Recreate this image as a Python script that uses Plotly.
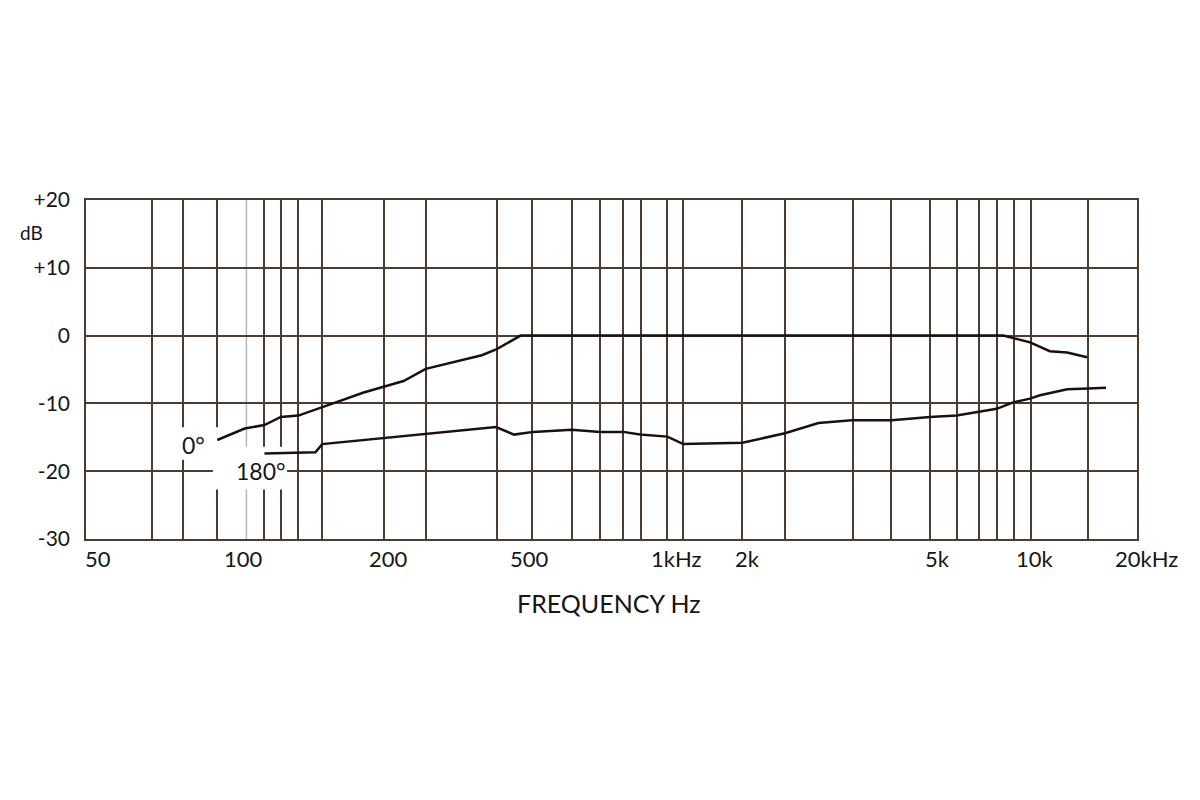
import math
import plotly.graph_objects as go

# ---- data ----
# 0 degree response
F0 = [84.5, 99, 111, 122, 135, 155, 165, 197, 221, 248, 282, 390, 425, 488,
      7950, 8420, 9280, 10400, 11500, 12900]
DB0 = [-15.4, -13.7, -13.2, -12.0, -11.8, -10.6, -10.0, -8.4, -7.5, -6.7, -4.9,
       -2.9, -2.0, 0.0, 0.0, -0.4, -1.0, -2.3, -2.5, -3.2]

# 180 degree response
F180 = [111, 149, 155, 221, 284, 423, 470, 525, 656, 772, 884, 973, 1140, 1250,
        1760, 2250, 2730, 3310, 4170, 5200, 6070, 6880, 7650, 8420, 9280, 9830,
        11500, 13000, 14400]
DB180 = [-17.4, -17.2, -16.0, -15.1, -14.5, -13.5, -14.6, -14.2, -13.9, -14.2,
         -14.2, -14.6, -14.9, -16.0, -15.8, -14.4, -12.9, -12.5, -12.5, -12.0,
         -11.8, -11.3, -10.8, -9.85, -9.3, -8.8, -7.9, -7.8, -7.7]

# grid lines of the chart paper (Hz)
GRID_HZ = [57.8, 69.2, 84.5, 111, 122, 135, 155, 221, 282, 425, 521, 658, 772,
           884, 977, 1140, 1250, 1760, 2250, 3330, 4150, 5190, 6070, 6900, 7680,
           8460, 9350, 13000]
GREY_LINE_HZ = 100

# axis labels
X_LABEL_HZ = [50, 100, 200, 500, 1000, 2000, 5000, 10000, 20000]
X_LABEL_TEXT = ["50", "100", "200", "500", "1kHz", "2k", "5k", "10k", "20kHz"]
Y_TICKS = [-30, -20, -10, 0, 10, 20]
Y_TICK_TEXT = ["-30", "-20", "-10", "0", "+10", "+20"]

# curve labels (frequency, dB)
CURVE_LABELS = [("0°", 73.7, -16.1), ("180°", 108.5, -19.9)]

# ---- styling ----
FONT = "Lato"
GRID_COLOR = "#4f3b2d"
CURVE_COLOR = "#1a1010"
TEXT_COLOR = "#161616"
X_LABEL_NUDGE = [-28, -3, 22, 5, 31, -17, 14, -8, -16]
X_RANGE = [1.5973, 4.236]

fig = go.Figure()
fig.add_trace(go.Scatter(x=F0, y=DB0, mode="lines",
                         line=dict(color=CURVE_COLOR, width=2.5), showlegend=False))
fig.add_trace(go.Scatter(x=F180, y=DB180, mode="lines",
                         line=dict(color=CURVE_COLOR, width=2.5), showlegend=False))

fig.update_layout(
    width=1200, height=800,
    paper_bgcolor="white", plot_bgcolor="white",
    margin=dict(l=86, r=63, t=200, b=261),
    font=dict(family=FONT, color=TEXT_COLOR),
    showlegend=False,
)

fig.update_xaxes(
    type="log", range=X_RANGE,
    tickmode="array", tickvals=GRID_HZ, showticklabels=False, ticks="",
    showgrid=True, gridcolor=GRID_COLOR, gridwidth=1.5,
    showline=True, linecolor=GRID_COLOR, linewidth=1.6, mirror=True,
    zeroline=False,
)
fig.update_yaxes(
    range=[-30, 20], tickmode="array", tickvals=Y_TICKS, ticktext=Y_TICK_TEXT,
    ticks="", ticklabelstandoff=10,
    tickfont=dict(family=FONT, size=21, color=TEXT_COLOR),
    showgrid=True, gridcolor=GRID_COLOR, gridwidth=1.5,
    showline=True, linecolor=GRID_COLOR, linewidth=1.6, mirror=True,
    zeroline=False,
)

shapes = [
    dict(type="line", xref="x", yref="paper", x0=GREY_LINE_HZ, x1=GREY_LINE_HZ,
         y0=0, y1=1, line=dict(color="#b8b8b8", width=1.5), layer="between"),
    # white masks behind curve labels
    dict(type="rect", xref="x", yref="y", x0=67.3, x1=87.2, y0=-18.3, y1=-13.5,
         fillcolor="white", line=dict(width=0), layer="between"),
    dict(type="rect", xref="x", yref="y", x0=82.4, x1=126.5, y0=-22.7, y1=-16.4,
         fillcolor="white", line=dict(width=0), layer="between"),
]
fig.update_layout(shapes=shapes)


def x_paper(f):
    return (math.log10(f) - X_RANGE[0]) / (X_RANGE[1] - X_RANGE[0])


annotations = []
for f, t, dx in zip(X_LABEL_HZ, X_LABEL_TEXT, X_LABEL_NUDGE):
    annotations.append(dict(x=x_paper(f), xref="paper", y=0, yref="paper", text=t,
                            showarrow=False, xanchor="center", yanchor="middle",
                            xshift=dx, yshift=-19,
                            font=dict(family=FONT, size=22, color=TEXT_COLOR)))
for t, f, db in CURVE_LABELS:
    annotations.append(dict(x=math.log10(f), xref="x", y=db, yref="y", text=t,
                            showarrow=False, xanchor="center", yanchor="middle",
                            font=dict(family=FONT, size=23, color=TEXT_COLOR)))
annotations += [
    dict(x=0.4976, xref="paper", y=0, yref="paper", text="FREQUENCY Hz",
         showarrow=False, xanchor="center", yanchor="middle", yshift=-64,
         font=dict(family=FONT, size=25, color=TEXT_COLOR)),
    dict(x=-0.0514, xref="paper", y=0.9027, yref="paper", text="dB",
         showarrow=False, xanchor="center", yanchor="middle",
         font=dict(family=FONT, size=19, color=TEXT_COLOR)),
]
fig.update_layout(annotations=annotations)

fig.write_html("out.html", config={"displayModeBar": False},
               post_script="document.body.style.margin='0';")
